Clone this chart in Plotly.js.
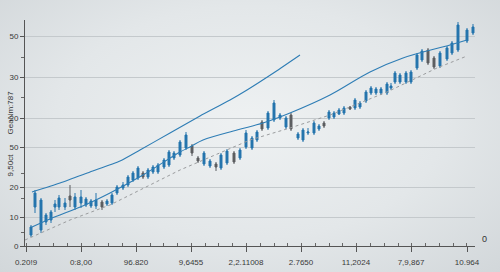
<!DOCTYPE html>
<html>
<head>
<meta charset="utf-8">
<script src="https://cdn.plot.ly/plotly-3.0.1.min.js"></script>
<style>
html,body{margin:0;padding:0;width:500px;height:272px;overflow:hidden;
background:radial-gradient(ellipse at 50% 45%, #eef1f2 0%, #e3e7e9 55%, #d2d7da 100%);}
#chart{width:500px;height:272px;}
</style>
</head>
<body>
<div id="chart"></div>
<script>
// candle positions and OHLC values (axis units)
const candleX = [6,10,16,21,26,30,34,40,45,50,56,61,66,71,77,82,87,92,98,103,108,113,118,123,128,133,139,144,149,155,161,167,173,179,185,191,196,202,209,215,221,227,232,237,243,249,255,261,266,273,278,283,289,294,299,304,309,314,319,325,330,335,341,346,351,356,362,366,370,375,381,386,392,397,403,409,415,422,427,433,442,448];
const candleOpen = [11,39,16,24,26,39,39,39,50,39,43,41,40,40,44,42,43,53,58,61,66,68,73,69,74,74,79,81,88,91,98,100,88,82,80,82,78,83,93,88,99,98,106,124,118,126,128,119,131,108,106,113,113,117,123,128,129,132,133,139,138,139,145,153,153,153,153,158,164,164,164,164,178,186,196,188,180,187,193,196,205,213];
const candleHigh = [21,56,48,33,36,46,51,48,61,53,56,49,47,53,46,47,53,61,64,71,75,80,75,78,81,83,88,96,95,106,114,102,90,95,87,84,93,97,95,98,116,110,116,126,135,146,133,130,133,114,118,118,125,122,125,136,135,138,140,140,148,145,156,160,159,159,164,163,175,173,175,176,193,197,198,190,195,200,205,224,218,222];
const candleLow = [9,33,13,21,23,34,36,36,39,36,38,39,38,37,36,40,41,51,56,59,64,66,67,67,72,72,77,79,86,89,96,90,83,80,78,75,76,81,82,86,97,96,104,115,116,124,126,117,115,106,104,111,111,115,118,126,127,131,131,136,136,137,143,151,151,151,151,156,162,162,162,162,176,184,181,177,178,185,191,194,203,211];
const candleClose = [19,53,46,31,34,42,48,43,46,49,49,47,45,46,39,45,51,59,61,69,73,78,69,76,79,81,86,94,93,104,111,93,85,93,85,79,91,95,84,96,113,108,114,117,133,143,131,128,117,112,116,114,123,120,120,134,133,136,138,137,146,143,154,158,157,157,162,160,173,171,173,174,191,195,183,179,193,198,203,221,216,219];

// upper solid line
const upperX = [7,35,65,95,115,145,175,205,222,250,275];
const upperY = [54,63,74,85,96,113,130,146,156,174,191];
// lower solid line
const lowerX = [7,25,60,85,118,155,165,178,212,238,265,305,345,378,425,442];
const lowerY = [19,27,41,53,71,94,99,106,116,123,133,151,174,188,201,206];
// dashed trend
const trendX = [0,45,85,155,225,265,305,325,362,385,412,442];
const trendY = [6,26,41,76,106,118,131,139,154,165,178,190];

const yTickVals = [0,29,59,99,128,169,210];
const yTickText = ["0","10","20","50","20","30","50"];
const xTickVals = [1,56,111,166,221,276,331,386,442];
const xTickText = ["0.20!9","0:8,00","96.820","9,6455","2,2.11008","2.7650","11,2024","7,9,867","10.964"];

const blue = "#2474ad";
const traces = [
  {type:"scatter", mode:"lines", x:upperX, y:upperY, line:{color:"#2e7db5", width:1.1, shape:"spline", smoothing:0.6}, hoverinfo:"skip"},
  {type:"scatter", mode:"lines", x:lowerX, y:lowerY, line:{color:"#2e7db5", width:1.1, shape:"spline"}, hoverinfo:"skip"},
  {type:"scatter", mode:"lines", x:trendX, y:trendY, line:{color:"#9a9c9e", width:1, dash:"3px,3px"}, hoverinfo:"skip"},
  {type:"candlestick", x:candleX, open:candleOpen, high:candleHigh, low:candleLow, close:candleClose,
   increasing:{line:{color:blue, width:1}, fillcolor:blue},
   decreasing:{line:{color:"#5b5d60", width:1}, fillcolor:"#5b5d60"},
   whiskerwidth:0, hoverinfo:"skip"}
];

const tickFont = {family:"Liberation Sans, Arial, sans-serif", size:8, color:"#3a3a3a"};
const layout = {
  width:500, height:272,
  margin:{l:25, r:25, t:20, b:26},
  paper_bgcolor:"rgba(0,0,0,0)", plot_bgcolor:"rgba(0,0,0,0)",
  showlegend:false,
  xaxis:{range:[0,450], rangeslider:{visible:false}, showgrid:false, zeroline:false,
    tickmode:"array", tickvals:xTickVals, ticktext:xTickText, tickfont:tickFont,
    ticks:"outside", ticklen:5, tickcolor:"#555", ticklabelstandoff:3,
    showline:true, linecolor:"#555", linewidth:1,
    minor:{dtick:13.78, tick0:1, ticks:"inside", ticklen:3, tickcolor:"#666", showgrid:false}},
  yaxis:{range:[0,226], showgrid:true, gridcolor:"#c4c9cc", gridwidth:1, zeroline:false,
    tickmode:"array", tickvals:yTickVals, ticktext:yTickText, tickfont:tickFont,
    ticks:"outside", ticklen:4, tickcolor:"#555", showline:true, linecolor:"#555", linewidth:1,
    minor:{tickvals:[14,48,73,149,189], ticks:"outside", ticklen:3, tickcolor:"#666", showgrid:false}},
  annotations:[
    {text:"GeaNm:787", xref:"paper", yref:"paper", x:-0.046, y:0.59, textangle:-90, showarrow:false,
     font:{family:"Liberation Sans, Arial, sans-serif", size:8, color:"#333"}},
    {text:"9,50ct", xref:"paper", yref:"paper", x:-0.046, y:0.36, textangle:-90, showarrow:false,
     font:{family:"Liberation Sans, Arial, sans-serif", size:8, color:"#333"}},
    {text:"0", xref:"paper", yref:"paper", x:1.031, y:0, showarrow:false,
     font:{family:"Liberation Sans, Arial, sans-serif", size:9, color:"#333"}}
  ]
};
Plotly.newPlot("chart", traces, layout, {displayModeBar:false, staticPlot:true});
</script>
</body>
</html>
